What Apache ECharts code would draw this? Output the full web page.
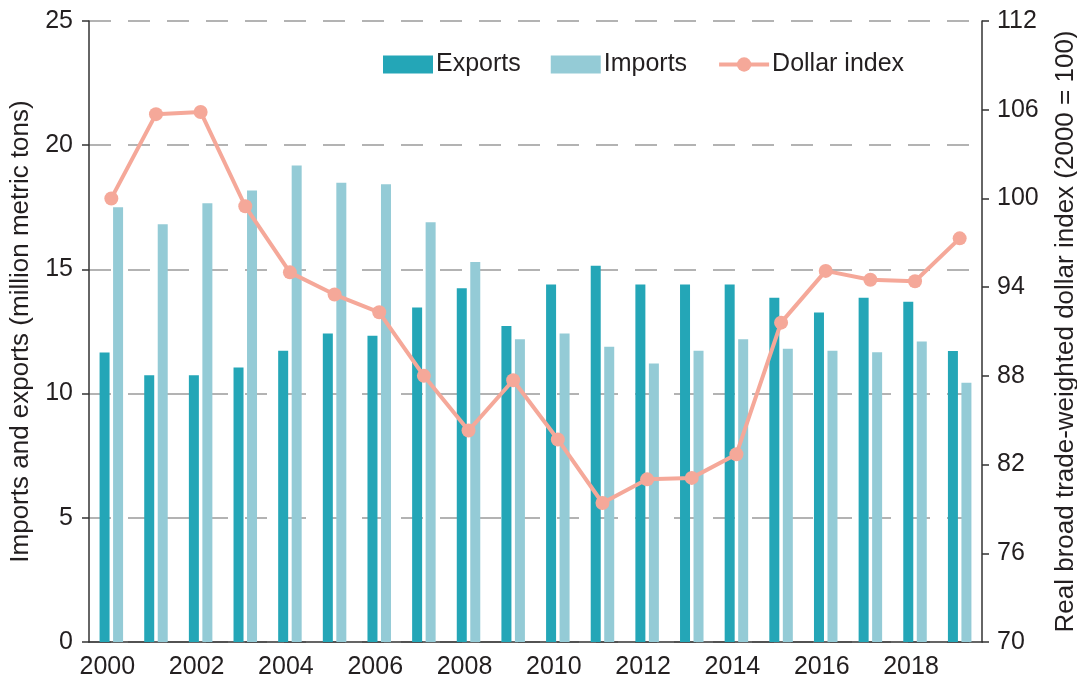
<!DOCTYPE html>
<html>
<head>
<meta charset="utf-8">
<script src="https://cdn.jsdelivr.net/npm/echarts@6/dist/echarts.min.js"></script>
<style>
html,body{margin:0;padding:0;background:#fff;}
#chart{width:1077px;height:676px;}
</style>
</head>
<body>
<div id="chart"></div>
<script>
const years = ['2000','2001','2002','2003','2004','2005','2006','2007','2008','2009','2010','2011','2012','2013','2014','2015','2016','2017','2018','2019'];
const exportsData = [11.65,10.74,10.74,11.05,11.73,12.42,12.33,13.47,14.24,12.72,14.39,15.15,14.39,14.39,14.39,13.86,13.26,13.86,13.70,11.72];
const importsData = [17.5,16.82,17.66,18.18,19.18,18.49,18.43,16.9,15.3,12.19,12.42,11.89,11.21,11.73,12.19,11.81,11.73,11.66,12.1,10.44];
const dollarIndex = [100,105.7,105.85,99.47,95.0,93.5,92.3,88.0,84.3,87.7,83.7,79.4,81.0,81.1,82.7,91.6,95.1,94.5,94.4,97.3];
const rightTicks = [70,76,82,88,94,100,106,112];

const FONT = 'Liberation Sans, Arial, Helvetica, sans-serif';
const chart = echarts.init(document.getElementById('chart'), null, {renderer:'canvas'});
chart.setOption({
  animation:false,
  backgroundColor:'#fff',
  textStyle:{fontFamily:FONT},
  grid:{left:89,right:95,top:21,bottom:34,containLabel:false,outerBoundsMode:'none'},
  legend:{
    left:378, top:47, itemWidth:50, itemHeight:18, itemGap:30,
    textStyle:{fontSize:25,color:'#231f20',fontFamily:FONT, padding:[0,0,0,-2]},
    data:[
      {name:'Exports',icon:'rect'},
      {name:'Imports',icon:'rect'},
      {name:'Dollar index',lineStyle:{width:4}}
    ]
  },
  xAxis:{
    type:'category', data:years, boundaryGap:true,
    axisLine:{lineStyle:{color:'#333',width:1.5}},
    axisTick:{interval:1,length:6,lineStyle:{color:'#333',width:1.5}},
    axisLabel:{interval:1,fontSize:25,color:'#231f20',margin:13,fontFamily:FONT,padding:[0,8,0,0]}
  },
  yAxis:[{
    type:'value', min:0, max:25, interval:5,
    name:'Imports and exports (million metric tons)', nameLocation:'middle', nameRotate:90, nameGap:52,
    nameTextStyle:{fontSize:26,color:'#231f20',fontFamily:FONT},
    axisLine:{show:true,lineStyle:{color:'#333',width:1.5}},
    axisTick:{show:true,length:7,lineStyle:{color:'#333',width:1.5}},
    axisLabel:{fontSize:25,color:'#231f20',margin:16,fontFamily:FONT},
    splitLine:{show:true,lineStyle:{color:'#9a9a9a',width:1.5,type:[22,17]}}
  },{
    type:'value', min:70, max:112, position:'right',
    name:'Real broad trade-weighted dollar index (2000 = 100)', nameLocation:'middle', nameRotate:90, nameGap:71,
    nameTextStyle:{fontSize:26,color:'#231f20',fontFamily:FONT},
    axisLine:{show:true,lineStyle:{color:'#333',width:1.5}},
    axisTick:{show:true,length:7,customValues:rightTicks,lineStyle:{color:'#333',width:1.5}},
    axisLabel:{fontSize:25,color:'#231f20',margin:15,fontFamily:FONT,customValues:rightTicks},
    splitLine:{show:false}
  }],
  series:[{
    name:'Exports', type:'bar', data:exportsData, yAxisIndex:0,
    barWidth:10, barGap:'35%',
    itemStyle:{color:'#24a6b7'}
  },{
    name:'Imports', type:'bar', data:importsData, yAxisIndex:0,
    barWidth:10, barGap:'35%',
    itemStyle:{color:'#94cbd6'}
  },{
    name:'Dollar index', type:'line', data:dollarIndex, yAxisIndex:1,
    symbol:'circle', symbolSize:14,
    lineStyle:{color:'#f5a899',width:4},
    itemStyle:{color:'#f5a899'},
    z:5
  }]
});
</script>
</body>
</html>
